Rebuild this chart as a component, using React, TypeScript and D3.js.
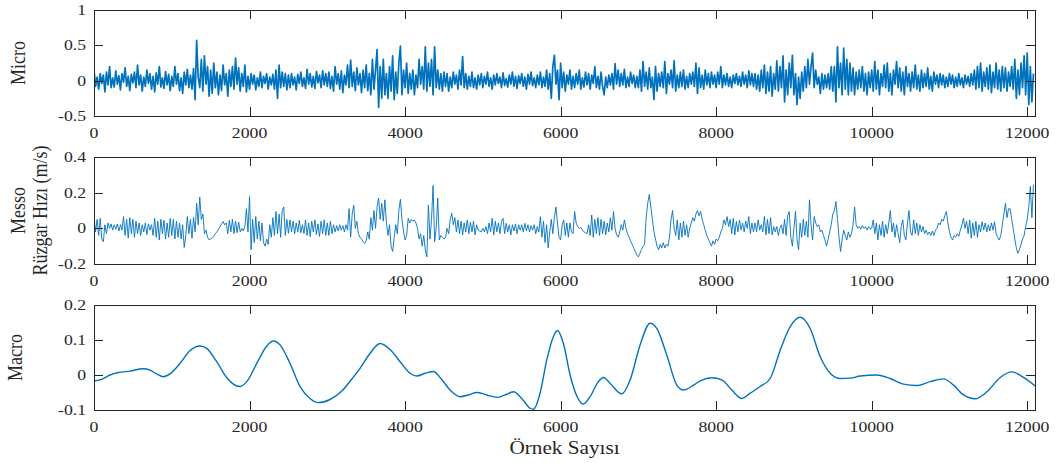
import React, { useEffect, useRef } from 'react';
import * as d3 from 'd3';

const WIDTH = 1063;
const HEIGHT = 463;
const STEP = 20; // micro / messo values are stored every 20 samples
const X_MAX = 12100;
const LINE_COLOR = '#0072BD';
const AXIS_COLOR = '#262626';
const STRETCH = 1.18; // the source image is a bit wider than tall

const xTicks = [0, 2000, 4000, 6000, 8000, 10000, 12000];
const microTicks = [-0.5, 0, 0.5, 1];
const messoTicks = [-0.2, 0, 0.2, 0.4];
const macroTicks = [-0.1, 0, 0.1, 0.2];

// Micro, every 20 samples (one row = 500 samples)
const microValues = [
  0.15, -0.08, 0.05, -0.12, 0.1, -0.04, 0.08, -0.16, 0.12, -0.06, 0.2, -0.1, 0.04, -0.09, 0.14, -0.05, 0.07, -0.13, 0.1, -0.02, 0.18, -0.08, 0.06, -0.14, 0.09,
  -0.03, 0.12, -0.1, 0.22, -0.06, 0.08, -0.15, 0.05, -0.08, 0.15, -0.04, 0.1, -0.12, 0.06, -0.16, 0.11, -0.05, 0.2, -0.09, 0.04, -0.11, 0.13, -0.06, 0.09, -0.14,
  0.06, -0.08, 0.2, -0.05, 0.1, -0.14, 0.04, -0.18, 0.12, -0.06, 0.16, -0.1, 0.08, -0.12, 0.17, -0.27, 0.57, 0.05, -0.1, 0.3, -0.15, 0.35, -0.05, 0.2, -0.22,
  0.15, -0.18, 0.25, -0.1, 0.12, -0.2, 0.08, -0.14, 0.22, -0.06, 0.1, -0.22, 0.15, -0.08, 0.2, -0.12, 0.32, -0.05, 0.18, -0.15, 0.1, -0.08, 0.22, -0.16, 0.06,
  -0.12, 0.1, -0.05, 0.08, -0.13, 0.04, -0.08, 0.12, -0.1, 0.06, -0.04, 0.1, -0.12, 0.05, -0.06, 0.09, -0.12, 0.15, -0.25, 0.22, -0.1, 0.12, -0.08, 0.1, -0.13,
  0.08, -0.1, 0.1, -0.06, 0.05, -0.13, 0.09, -0.04, 0.12, -0.08, 0.04, -0.11, 0.16, -0.05, 0.1, -0.09, 0.06, -0.11, 0.13, -0.03, 0.08, -0.1, 0.14, -0.06, 0.1,
  -0.08, 0.12, -0.11, 0.06, -0.15, 0.2, -0.05, 0.1, -0.12, 0.14, -0.17, 0.08, -0.06, 0.22, -0.1, 0.29, -0.08, 0.12, -0.14, 0.18, -0.06, 0.1, -0.17, 0.15, -0.1,
  0.22, -0.14, 0.1, -0.2, 0.3, -0.12, 0.15, 0.44, -0.38, 0.2, -0.25, 0.3, -0.2, 0.1, -0.25, 0.2, -0.15, 0.35, -0.27, 0.12, -0.18, 0.25, 0.49, -0.2, 0.15,
  -0.1, 0.25, -0.18, 0.1, -0.12, 0.15, -0.2, 0.08, -0.1, 0.3, -0.05, 0.2, -0.12, 0.48, -0.15, 0.25, -0.08, 0.3, -0.2, 0.48, -0.1, 0.15, -0.12, 0.1, -0.15,
  0.12, -0.08, 0.1, -0.15, 0.05, -0.1, 0.12, -0.05, 0.08, -0.12, 0.15, -0.06, 0.34, -0.1, 0.1, -0.12, 0.06, -0.08, 0.12, -0.1, 0.04, -0.12, 0.08, -0.06, 0.1,
  -0.1, 0.06, -0.05, 0.12, -0.08, 0.04, -0.12, 0.08, -0.06, 0.1, -0.04, 0.05, -0.1, 0.11, -0.07, 0.03, -0.09, 0.08, -0.05, 0.12, -0.08, 0.06, -0.11, 0.07, -0.04,
  0.1, -0.08, 0.05, -0.12, 0.09, -0.05, 0.12, -0.07, 0.04, -0.1, 0.08, -0.06, 0.12, -0.1, 0.05, -0.08, 0.15, -0.12, 0.1, -0.25, 0.2, 0.36, -0.05, 0.15, -0.27,
  0.25, -0.1, 0.12, -0.15, 0.08, -0.05, 0.15, -0.12, 0.06, -0.1, 0.1, -0.05, 0.15, -0.12, 0.04, -0.09, 0.12, -0.06, 0.1, -0.12, 0.08, -0.04, 0.2, -0.1, 0.06,
  -0.12, 0.12, -0.08, -0.2, 0.05, -0.1, 0.08, -0.06, 0.1, -0.12, 0.24, -0.05, 0.15, -0.08, 0.1, -0.06, 0.16, -0.1, 0.05, -0.08, 0.12, -0.04, 0.08, -0.1, 0.06,
  -0.1, 0.15, -0.15, 0.27, -0.08, 0.12, -0.12, 0.18, -0.1, 0.05, -0.27, 0.2, -0.15, 0.1, -0.08, 0.12, -0.1, 0.27, -0.18, 0.1, -0.05, 0.15, -0.1, 0.28, -0.15,
  0.08, -0.1, 0.12, -0.08, 0.15, -0.12, 0.06, -0.1, 0.1, -0.05, 0.12, -0.08, 0.25, -0.18, 0.18, -0.1, 0.08, -0.12, 0.15, -0.06, 0.1, -0.1, 0.12, -0.05, 0.08,
  -0.1, 0.12, -0.05, 0.2, -0.1, 0.08, -0.06, 0.1, -0.08, 0.05, -0.1, 0.08, -0.04, 0.1, -0.06, 0.06, -0.08, 0.12, -0.05, 0.08, -0.1, 0.14, -0.06, 0.1, -0.08,
  0.1, -0.12, 0.08, -0.15, 0.15, -0.1, 0.22, -0.18, 0.12, -0.15, 0.2, -0.22, 0.1, -0.12, 0.28, -0.15, 0.2, -0.1, 0.35, -0.3, 0.15, -0.2, 0.25, -0.1, 0.36,
  -0.2, 0.1, -0.34, 0.05, -0.25, 0.12, -0.15, 0.2, -0.1, 0.3, -0.05, 0.2, 0.39, -0.1, 0.15, -0.05, 0.05, -0.18, 0.1, -0.12, 0.08, -0.1, 0.1, -0.12, 0.2,
  -0.15, 0.2, -0.3, 0.48, -0.1, 0.25, -0.2, 0.46, -0.12, 0.3, -0.2, 0.25, -0.15, 0.18, -0.2, 0.12, -0.12, 0.15, -0.1, 0.2, -0.15, 0.1, -0.2, 0.12, -0.1,
  0.15, -0.15, 0.27, -0.12, 0.15, -0.2, 0.1, -0.08, 0.22, -0.1, 0.25, -0.15, 0.1, -0.2, 0.15, -0.05, 0.27, -0.1, 0.18, -0.15, 0.12, -0.2, 0.2, -0.08, 0.1,
  -0.15, 0.12, -0.1, 0.22, -0.12, 0.08, -0.15, 0.15, -0.1, 0.1, -0.08, 0.18, -0.12, 0.06, -0.15, 0.12, -0.05, 0.08, -0.1, 0.1, -0.06, 0.08, -0.1, 0.05, -0.08,
  0.1, -0.05, 0.08, -0.1, 0.05, -0.08, 0.1, -0.06, 0.04, -0.1, 0.08, -0.05, 0.06, -0.08, 0.1, -0.06, 0.15, -0.12, 0.2, -0.1, 0.25, -0.15, 0.12, -0.08, 0.18,
  -0.12, 0.22, -0.17, 0.12, -0.1, 0.25, -0.12, 0.15, -0.15, 0.2, -0.1, 0.18, -0.15, 0.12, -0.08, 0.2, -0.12, 0.3, -0.25, 0.15, -0.2, 0.25, -0.1, 0.35, -0.2,
  0.39, -0.34, 0.2, -0.3, 0.1,
];

// Messo, every 20 samples (one row = 500 samples)
const messoValues = [
  0.066, -0.02, 0.05, -0.04, 0.056, -0.06, -0.075, 0.02, -0.03, 0.03, 0.0, 0.025, -0.01, 0.02, -0.005, 0.025, -0.015, 0.02, -0.01, 0.066, -0.04, 0.05, -0.055, 0.06, -0.03,
  0.05, -0.05, 0.04, -0.03, 0.03, -0.04, 0.02, -0.02, 0.03, -0.035, 0.025, -0.01, 0.02, -0.04, 0.056, -0.05, 0.04, -0.065, 0.05, -0.03, 0.045, -0.06, 0.03, -0.05, 0.056,
  -0.04, 0.05, -0.06, 0.04, -0.05, 0.03, -0.06, 0.02, -0.107, -0.04, 0.066, -0.03, 0.05, -0.056, 0.06, -0.02, 0.14, 0.02, 0.175, 0.05, 0.08, -0.03, -0.01, -0.05, -0.065,
  -0.06, -0.055, -0.045, -0.03, -0.02, -0.005, 0.01, 0.025, 0.038, 0.02, 0.03, -0.03, 0.045, -0.02, 0.05, -0.03, 0.04, -0.025, 0.035, -0.02, 0.0, -0.015, 0.01, 0.11, -0.02,
  0.178, -0.12, 0.05, -0.08, 0.066, -0.06, 0.04, -0.07, 0.03, -0.08, -0.1, -0.06, -0.09, 0.02, -0.05, 0.06, -0.04, 0.094, -0.03, 0.08, -0.05, 0.1, 0.12, -0.04, 0.05,
  -0.028, 0.047, -0.02, 0.04, -0.03, 0.03, -0.02, 0.045, -0.025, 0.02, -0.03, 0.047, -0.04, 0.03, -0.047, 0.04, -0.02, 0.047, -0.035, 0.025, -0.045, 0.04, -0.03, 0.047, -0.04,
  0.03, -0.04, 0.04, -0.03, 0.02, -0.02, 0.015, -0.015, 0.02, -0.01, 0.015, -0.02, 0.02, -0.01, 0.11, -0.05, 0.08, 0.13, 0.0, 0.04, -0.03, -0.05, -0.06, -0.075, -0.085,
  -0.07, -0.02, -0.06, 0.06, -0.01, 0.1, 0.0, 0.12, 0.17, 0.05, 0.14, 0.04, 0.16, 0.03, -0.04, 0.02, -0.1, -0.13, -0.05, 0.02, -0.03, 0.1, 0.163, 0.05, -0.02,
  -0.065, -0.04, 0.056, 0.03, 0.05, 0.04, 0.047, 0.03, 0.0, -0.06, -0.03, -0.1, -0.04, -0.12, -0.16, 0.13, -0.06, 0.05, 0.24, -0.075, 0.0, 0.17, -0.065, -0.04, -0.05,
  -0.06, -0.05, 0.0, -0.03, 0.05, 0.085, 0.02, 0.06, -0.02, 0.047, -0.03, 0.04, -0.037, 0.03, -0.02, 0.047, -0.03, 0.035, -0.02, 0.04, -0.037, 0.02, -0.01, -0.015, -0.02,
  0.0, -0.02, 0.01, -0.03, 0.03, -0.02, 0.056, -0.037, 0.04, -0.02, 0.03, -0.03, 0.04, 0.056, -0.03, 0.028, -0.02, 0.02, -0.037, 0.02, -0.015, 0.025, -0.03, 0.02, -0.01,
  0.02, -0.02, 0.028, -0.015, 0.02, -0.02, 0.015, -0.01, 0.02, -0.03, 0.01, -0.02, 0.066, -0.05, 0.04, -0.08, 0.02, -0.11, -0.02, 0.05, -0.03, 0.06, 0.12, 0.03, -0.05,
  -0.065, 0.02, 0.047, -0.04, 0.03, -0.05, 0.03, -0.02, -0.03, 0.094, 0.03, 0.01, 0.0, 0.005, -0.01, -0.02, -0.025, -0.03, 0.02, -0.04, 0.075, -0.05, 0.05, -0.03, 0.06,
  -0.04, 0.05, -0.03, 0.04, -0.037, 0.03, -0.02, 0.06, -0.01, 0.094, 0.0, -0.037, -0.05, -0.02, 0.02, -0.01, 0.047, 0.0, -0.03, -0.05, -0.07, -0.09, -0.11, -0.13, -0.15,
  -0.16, -0.14, -0.12, -0.1, -0.09, 0.06, 0.14, 0.19, 0.12, 0.05, -0.02, -0.06, -0.1, -0.12, -0.09, -0.11, -0.08, -0.11, -0.09, -0.1, -0.05, 0.05, 0.1, 0.0, -0.04,
  0.047, -0.065, 0.03, -0.05, 0.04, -0.04, 0.02, -0.05, 0.0, 0.03, 0.06, 0.04, 0.08, 0.1, 0.07, 0.095, 0.05, 0.02, -0.01, -0.04, -0.06, -0.08, -0.1, -0.07, -0.09,
  -0.06, -0.07, -0.05, -0.02, 0.0, 0.047, 0.02, 0.066, 0.01, 0.05, -0.03, 0.056, -0.037, 0.04, -0.02, 0.047, -0.01, 0.03, -0.02, 0.04, 0.0, 0.066, -0.03, 0.03, -0.02,
  0.03, -0.02, 0.047, -0.01, 0.02, -0.02, 0.066, -0.037, 0.05, -0.03, 0.06, -0.037, 0.01, -0.02, 0.01, -0.04, 0.0, 0.02, -0.03, 0.05, -0.04, 0.07, 0.094, -0.05, -0.1,
  0.0, 0.094, -0.06, -0.12, 0.03, -0.05, 0.05, -0.04, 0.04, -0.05, 0.16, 0.02, -0.065, 0.066, 0.03, 0.01, 0.02, -0.02, -0.01, -0.04, -0.065, -0.1, -0.06, -0.02, 0.02,
  0.08, 0.1, 0.15, 0.05, -0.05, -0.13, -0.06, -0.01, -0.04, -0.065, -0.02, -0.05, -0.03, 0.02, 0.12, 0.02, 0.0, 0.01, -0.005, 0.015, 0.0, 0.01, -0.01, 0.01, -0.005,
  0.0, 0.047, -0.03, 0.03, -0.065, 0.02, -0.04, 0.04, -0.05, 0.02, -0.03, 0.03, 0.1, -0.02, 0.03, -0.05, 0.02, -0.03, -0.08, 0.01, 0.047, -0.04, -0.065, 0.03, 0.1,
  -0.02, -0.04, 0.047, -0.03, 0.03, -0.04, 0.02, -0.02, 0.01, -0.03, -0.01, -0.035, -0.02, -0.04, -0.015, -0.04, -0.01, 0.0, 0.03, 0.02, 0.05, 0.04, 0.07, 0.094, 0.03,
  -0.02, -0.05, -0.065, -0.04, -0.05, -0.03, -0.045, -0.01, 0.02, 0.056, 0.0, 0.04, -0.03, 0.047, -0.055, 0.03, -0.04, 0.04, -0.05, 0.02, -0.02, 0.037, -0.01, 0.03, -0.02,
  0.02, -0.015, 0.03, -0.01, 0.037, -0.03, -0.05, -0.065, -0.04, 0.02, 0.08, 0.14, 0.06, 0.11, 0.11, 0.05, 0.0, -0.06, -0.11, -0.14, -0.12, -0.09, -0.06, -0.04, 0.01,
  0.05, 0.12, 0.235, 0.06, 0.245,
];

// Macro is smooth, so it is kept as read points (sample, value)
const macroSamples = [
  0, 77, 206, 313, 463, 634, 720, 806, 892, 977, 1106, 1235, 1364, 1449, 1578, 1706, 1792, 1878, 1964,
  2093, 2221, 2307, 2392, 2521, 2650, 2778, 2885, 3035, 3190, 3310, 3421, 3550, 3678, 3807, 3936,
  4064, 4150, 4257, 4364, 4450, 4579, 4707, 4815, 4922, 5050, 5179, 5286, 5393, 5500, 5607, 5650,
  5736, 5822, 5908, 5959, 6036, 6122, 6208, 6293, 6379, 6486, 6551, 6637, 6787, 6894, 7022, 7151,
  7237, 7365, 7494, 7580, 7710, 7795, 7945, 8073, 8202, 8330, 8438, 8566, 8695, 8824, 8952, 9081,
  9209, 9338, 9466, 9595, 9724, 9852, 10067, 10238, 10410, 10581, 10753, 10924, 11053, 11181, 11331,
  11481, 11653, 11803, 11953, 12100,
];
const macroValues = [
  -0.017, -0.014, 0, 0.007, 0.011, 0.018, 0.014, 0.003, -0.005, 0.003, 0.033, 0.07, 0.083, 0.076, 0.038, -0.007, -0.026, -0.033, -0.019,
  0.033, 0.083, 0.097, 0.086, 0.033, -0.033, -0.067, -0.079, -0.07, -0.045, -0.013, 0.019, 0.062, 0.09, 0.073, 0.038,
  0.005, -0.003, 0.005, 0.01, -0.007, -0.043, -0.062, -0.057, -0.05, -0.057, -0.064, -0.057, -0.048, -0.067, -0.095, -0.098,
  -0.052, 0.043, 0.11, 0.127, 0.09, 0, -0.06, -0.083, -0.062, -0.019, -0.007, -0.024, -0.054, -0.014, 0.086, 0.148,
  0.133, 0.057, -0.029, -0.043, -0.029, -0.017, -0.008, -0.014, -0.043, -0.067, -0.052, -0.033, -0.01, 0.071, 0.138, 0.165,
  0.133, 0.052, 0.005, -0.01, -0.009, -0.003, 0, -0.01, -0.026, -0.03, -0.019, -0.011, -0.029, -0.057, -0.068,
  -0.048, -0.007, 0.009, -0.007, -0.031,
];

const LEFT = 94;
const RIGHT = 1035;

function putText(g, x, y, text, size, anchor, rotate = false) {
  return g
    .append('text')
    .attr('transform', `translate(${x},${y}) scale(${STRETCH},1)${rotate ? ' rotate(-90)' : ''}`)
    .attr('text-anchor', anchor)
    .attr('font-family', '"Liberation Serif", "Times New Roman", serif')
    .attr('font-size', size)
    .attr('fill', AXIS_COLOR)
    .text(text);
}

export default function App() {
  const ref = useRef(null);

  useEffect(() => {
    const svg = d3.select(ref.current);
    svg.selectAll('*').remove();

    const panels = [
      {
        id: 'micro', top: 10, bottom: 116, domain: [-0.5, 1], ticks: microTicks,
        points: microValues.map((v, i) => [i * STEP, v]), width: 1.7,
        labels: [{ text: 'Micro', x: 25 }],
      },
      {
        id: 'messo', top: 157, bottom: 264, domain: [-0.2, 0.4], ticks: messoTicks,
        points: messoValues.map((v, i) => [i * STEP, v]), width: 0.9,
        labels: [{ text: 'Messo', x: 25 }, { text: 'Rüzgar Hızı (m/s)', x: 47 }],
      },
      {
        id: 'macro', top: 305, bottom: 410, domain: [-0.1, 0.2], ticks: macroTicks,
        points: macroSamples.map((s, i) => [s, macroValues[i]]), width: 1.4, smooth: true,
        labels: [{ text: 'Macro', x: 22 }],
      },
    ];

    const x = d3.scaleLinear().domain([0, X_MAX]).range([LEFT, RIGHT]);

    panels.forEach(p => {
      const y = d3.scaleLinear().domain(p.domain).range([p.bottom, p.top]);
      const g = svg.append('g');

      g.append('clipPath')
        .attr('id', `clip-${p.id}`)
        .append('rect')
        .attr('x', LEFT)
        .attr('y', p.top)
        .attr('width', RIGHT - LEFT)
        .attr('height', p.bottom - p.top);

      const line = d3.line()
        .x(d => x(d[0]))
        .y(d => y(d[1]));
      if (p.smooth) line.curve(d3.curveMonotoneX);

      g.append('path')
        .datum(p.points)
        .attr('clip-path', `url(#clip-${p.id})`)
        .attr('fill', 'none')
        .attr('stroke', LINE_COLOR)
        .attr('stroke-width', p.width)
        .attr('stroke-linejoin', 'round')
        .attr('d', line);

      // box
      g.append('rect')
        .attr('x', LEFT + 0.5)
        .attr('y', p.top + 0.5)
        .attr('width', RIGHT - LEFT)
        .attr('height', p.bottom - p.top)
        .attr('fill', 'none')
        .attr('stroke', AXIS_COLOR)
        .attr('stroke-width', 1);

      // x ticks, inward on top and bottom
      xTicks.forEach(t => {
        const tx = Math.round(x(t)) + 0.5;
        g.append('line').attr('x1', tx).attr('x2', tx)
          .attr('y1', p.bottom).attr('y2', p.bottom - 9).attr('stroke', AXIS_COLOR);
        g.append('line').attr('x1', tx).attr('x2', tx)
          .attr('y1', p.top).attr('y2', p.top + 9).attr('stroke', AXIS_COLOR);
        putText(g, x(t), p.bottom + 22, String(t), 15, 'middle');
      });

      // y ticks, inward on left and right
      p.ticks.forEach(t => {
        const ty = Math.round(y(t)) + 0.5;
        g.append('line').attr('x1', LEFT).attr('x2', LEFT + 9)
          .attr('y1', ty).attr('y2', ty).attr('stroke', AXIS_COLOR);
        g.append('line').attr('x1', RIGHT).attr('x2', RIGHT - 9)
          .attr('y1', ty).attr('y2', ty).attr('stroke', AXIS_COLOR);
        putText(g, 86, y(t) + 5, String(t), 15, 'end');
      });

      const mid = (p.top + p.bottom) / 2;
      p.labels.forEach(l => putText(g, l.x, mid, l.text, 18, 'middle', true));
    });

    putText(svg, (LEFT + RIGHT) / 2, 454, 'Örnek Sayısı', 18, 'middle');
  }, []);

  return (
    <svg
      ref={ref}
      width={WIDTH}
      height={HEIGHT}
      style={{ position: 'absolute', left: 0, top: 0, background: '#fff' }}
    />
  );
}
